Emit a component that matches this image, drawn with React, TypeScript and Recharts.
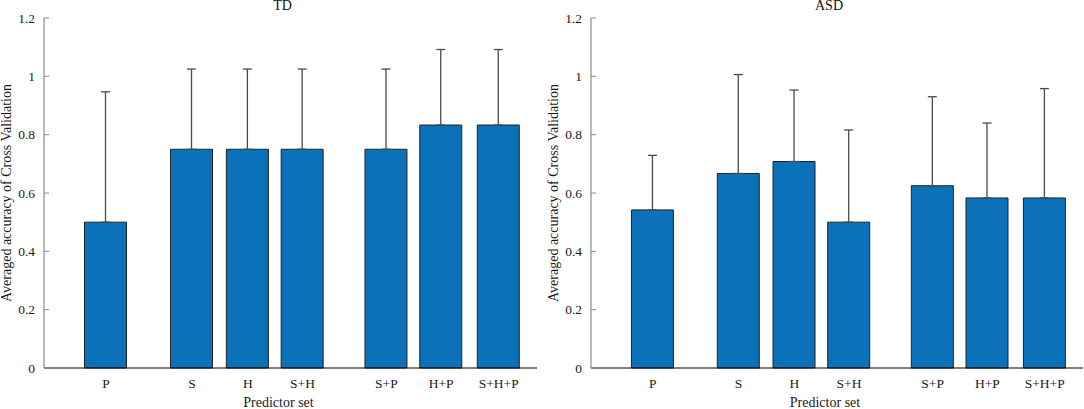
import React from "react";
import {
  ComposedChart,
  Bar,
  ErrorBar,
  XAxis,
  YAxis,
} from "recharts";

// predictor sets along the x axis and where MATLAB put them
const predictorSets = ["P", "S", "H", "S+H", "S+P", "H+P", "S+H+P"];
const groupX = [1.13, 2.7, 3.72, 4.72, 6.25, 7.25, 8.3];

// averaged accuracy of cross validation (mean, upper std)
const tdMean = [0.5, 0.75, 0.75, 0.75, 0.75, 0.833, 0.833];
const tdErr = [0.447, 0.275, 0.275, 0.275, 0.275, 0.259, 0.259];

const asdMean = [0.542, 0.667, 0.708, 0.5, 0.625, 0.583, 0.583];
const asdErr = [0.187, 0.339, 0.245, 0.316, 0.305, 0.257, 0.375];

const yTicks = [0, 0.2, 0.4, 0.6, 0.8, 1, 1.2];

const FONT = "'Liberation Serif', 'Times New Roman', serif";
const BAR_BLUE = "#0B71B9";

interface PanelProps {
  title: string;
  mean: number[];
  err: number[];
  width: number;
  left: number;
  marginLeft: number;
  marginRight: number;
}

function Panel({ title, mean, err, width, left, marginLeft, marginRight }: PanelProps) {
  const data = predictorSets.map((name, i) => ({
    name,
    x: groupX[i],
    mean: mean[i],
    err: [0, err[i]],
  }));

  const plotLeft = marginLeft + 40;
  const plotCenter = plotLeft + (width - plotLeft - marginRight) / 2;

  return (
    <div style={{ position: "absolute", left, top: 0, width, height: 409 }}>
      <div
        style={{
          position: "absolute",
          top: -2,
          left: plotCenter - 8 - 50,
          width: 100,
          textAlign: "center",
          fontFamily: FONT,
          fontSize: 14,
          color: "#111",
        }}
      >
        {title}
      </div>
      <ComposedChart
        width={width}
        height={409}
        data={data}
        margin={{ top: 18, right: marginRight, bottom: 0, left: marginLeft }}
      >
        <XAxis
          type="number"
          dataKey="x"
          domain={[0, 9]}
          ticks={groupX}
          interval={0}
          tickFormatter={(v) => predictorSets[groupX.indexOf(v)] ?? ""}
          tickLine={false}
          tickSize={0}
          tickMargin={10}
          height={41}
          axisLine={{ stroke: "#000", strokeWidth: 1 }}
          tick={{ fontSize: 13.5, fill: "#1a1a1a", fontFamily: FONT }}
          label={{
            value: "Predictor set",
            position: "insideBottom",
            offset: 2,
            dx: -12,
            style: { fontSize: 14, fill: "#1a1a1a", fontFamily: FONT },
          }}
        />
        <YAxis
          domain={[0, 1.2]}
          ticks={yTicks}
          interval={0}
          width={40}
          tickSize={-5}
          tickMargin={14}
          axisLine={{ stroke: "#8a8a8a", strokeWidth: 1.2 }}
          tickLine={{ stroke: "#8a8a8a" }}
          tick={{ fontSize: 13.5, fill: "#1a1a1a", fontFamily: FONT }}
          label={{
            value: "Averaged accuracy of Cross Validation",
            angle: -90,
            position: "insideLeft",
            offset: 2,
            style: { fontSize: 14, fill: "#1a1a1a", fontFamily: FONT, textAnchor: "middle" },
          }}
        />
        <Bar
          dataKey="mean"
          barSize={42}
          fill={BAR_BLUE}
          stroke="#222"
          strokeWidth={1}
          isAnimationActive={false}
        >
          <ErrorBar
            dataKey="err"
            direction="y"
            width={4.5}
            stroke="#4a4a4a"
            strokeWidth={1.3}
            isAnimationActive={false}
          />
        </Bar>
      </ComposedChart>
    </div>
  );
}

export default function App() {
  return (
    <div
      style={{
        position: "absolute",
        left: 0,
        top: 0,
        width: 1084,
        height: 409,
        background: "#fff",
      }}
    >
      <Panel title="TD" mean={tdMean} err={tdErr} width={540} left={0} marginLeft={4} marginRight={3} />
      <Panel title="ASD" mean={asdMean} err={asdErr} width={544} left={540} marginLeft={11} marginRight={1} />
    </div>
  );
}
